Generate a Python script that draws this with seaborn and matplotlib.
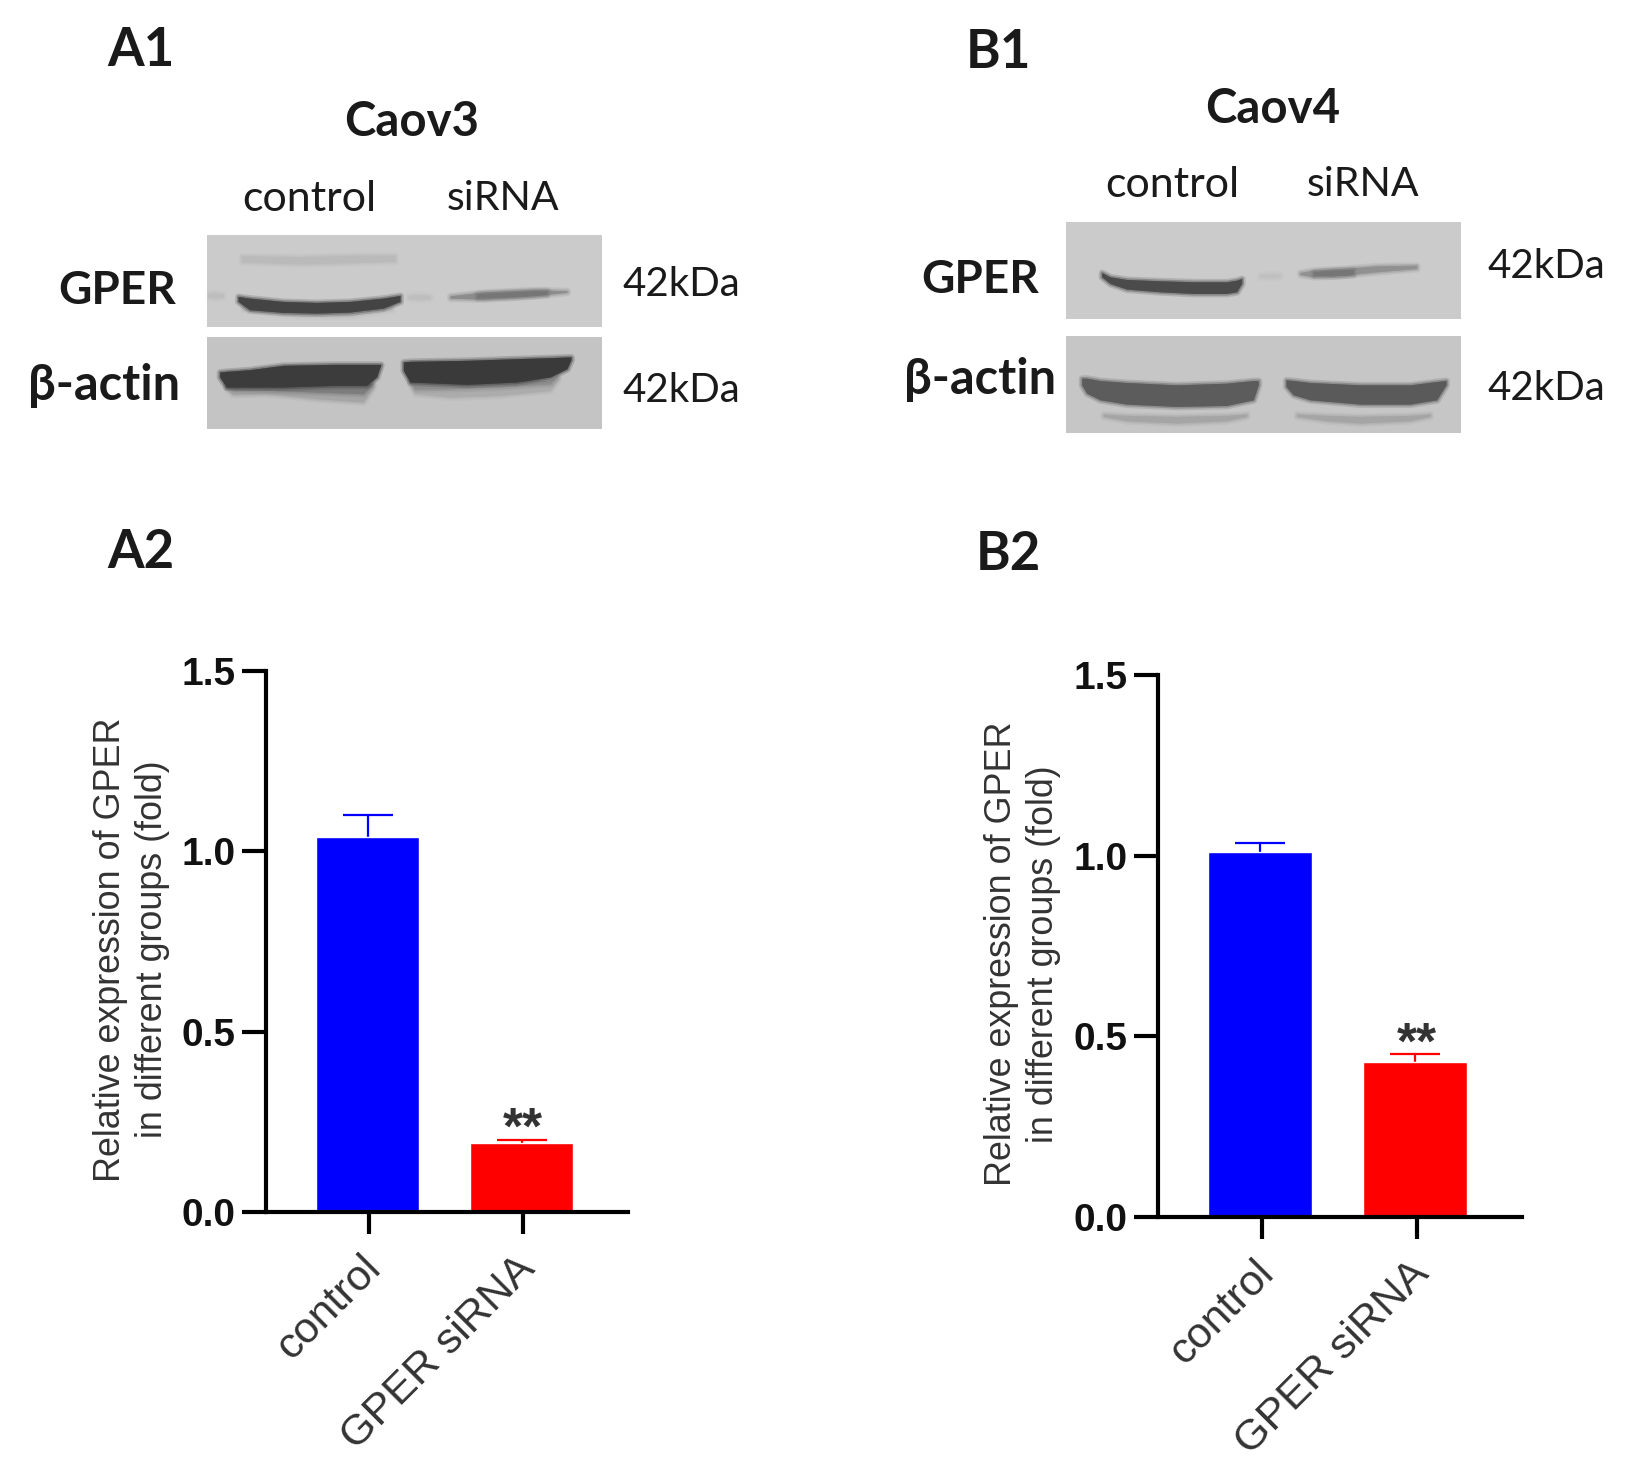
import pandas as pd
import matplotlib
matplotlib.use("Agg")
import matplotlib.pyplot as plt
import seaborn as sns
from matplotlib.transforms import ScaledTranslation

# bar data
groups = ["control", "GPER siRNA"]
a2_values = [1.04, 0.19]
a2_upper = [1.10, 0.20]
b2_values = [1.01, 0.43]
b2_upper = [1.035, 0.45]
bar_colors = ["#0000ff", "#ff0000"]
y_ticks = [0.0, 0.5, 1.0, 1.5]

# blots: each band is (x, top edge, bottom edge, grey level)
a1_gper = [
    ([125, 300, 470, 585], [78, 80, 76, 76], [96, 102, 98, 94], 186),
    ([130, 300, 450, 575], [225, 240, 240, 225], [240, 258, 258, 240], 185),
    ([115, 150, 250, 350, 450, 550, 600], [200, 205, 215, 218, 215, 205, 197],
     [215, 240, 248, 250, 247, 235, 215], 68),
    ([24, 45, 70], [192, 188, 192], [202, 206, 202], 190),
    ([625, 655, 690], [198, 194, 198], [206, 210, 206], 190),
    ([750, 850, 1000, 1100], [198, 187, 180, 183], [205, 208, 198, 187], 140),
    ([830, 950, 1040], [192, 186, 182], [204, 200, 194], 118),
]
a1_actin = [
    ([80, 100, 200, 350, 490, 520], [460, 460, 460, 460, 460, 460],
     [475, 493, 490, 505, 515, 470], 165),
    ([80, 100, 200, 350, 490, 515], [460, 460, 460, 460, 460, 460],
     [470, 478, 480, 485, 490, 465], 125),
    ([60, 80, 150, 250, 400, 500, 530, 542], [425, 423, 418, 405, 402, 402, 402, 402],
     [440, 470, 470, 470, 465, 465, 440, 405], 60),
    ([630, 645, 750, 900, 1050, 1075], [450, 450, 450, 450, 450, 445],
     [460, 490, 500, 495, 480, 445], 172),
    ([630, 645, 750, 900, 1050, 1070], [450, 450, 450, 450, 450, 440],
     [455, 476, 475, 470, 460, 440], 140),
    ([610, 630, 800, 950, 1050, 1100, 1112], [395, 393, 390, 385, 382, 380, 380],
     [420, 455, 462, 455, 440, 415, 388], 58),
]
b1_gper = [
    ([125, 150, 200, 300, 400, 500, 530, 545], [172, 185, 193, 197, 200, 200, 195, 190],
     [185, 205, 222, 230, 235, 235, 230, 205], 75),
    ([600, 630, 660], [178, 176, 178], [186, 188, 186], 192),
    ([720, 760, 850, 950, 1070], [172, 165, 160, 152, 150], [178, 185, 180, 170, 160], 145),
    ([760, 820, 880], [170, 165, 163], [180, 182, 178], 118),
]
b1_actin = [
    ([65, 80, 120, 200, 350, 500, 580, 595], [490, 490, 497, 503, 510, 505, 497, 497],
     [510, 535, 555, 568, 575, 572, 555, 510], 92),
    ([678, 700, 750, 900, 1050, 1130, 1158], [495, 497, 503, 510, 510, 500, 497],
     [515, 540, 555, 568, 568, 555, 510], 90),
    ([130, 200, 350, 500, 560], [598, 602, 605, 602, 598], [605, 618, 625, 618, 605], 165),
    ([710, 800, 900, 1050, 1110], [598, 602, 605, 602, 598], [605, 618, 625, 618, 605], 165),
]

sns.set_theme(style="white")
plt.rcParams["font.family"] = ["Liberation Sans", "DejaVu Sans"]

W, H = 1630, 1467
fig = plt.figure(figsize=(W / 100, H / 100), dpi=100, facecolor="white")


def px_axes(left, top, right, bottom):
    return fig.add_axes([left / W, 1 - bottom / H, (right - left) / W, (bottom - top) / H])


def px_text(x, y, s, size, weight="normal", color="#1a1a1a"):
    fig.text(x / W, 1 - y / H, s, fontsize=size, fontweight=weight, color=color,
             ha="center", va="center", family=["Lato", "DejaVu Sans"])


def draw_blot(bands, box, xlim, ylim, background):
    ax = px_axes(*box)
    ax.set_facecolor(str(background / 255))
    for x, top, bottom, grey in bands:
        col = str(grey / 255)
        # soft rim first, so the band edge is not razor sharp
        for lw, alpha in [(5, 0.2), (2.5, 0.4), (0, 1)]:
            ax.fill_between(x, top, bottom, color=col, lw=lw, alpha=alpha)
    ax.set_xlim(*xlim)
    ax.set_ylim(*ylim)
    ax.set_xticks([])
    ax.set_yticks([])
    for s in ax.spines.values():
        s.set_visible(False)


def draw_bars(values, upper, box, label_x):
    ax = px_axes(*box)
    df = pd.DataFrame({"group": groups, "value": values})
    sns.barplot(data=df, x="group", y="value", hue="group", palette=bar_colors, saturation=1,
                width=0.67, legend=False, errorbar=None, ax=ax, zorder=2)
    for i, (v, u) in enumerate(zip(values, upper)):
        _, caps, _ = ax.errorbar(i, v, yerr=[[0], [u - v]], color=bar_colors[i], capsize=18,
                                 elinewidth=1.6, capthick=1.6, zorder=1)
        caps[0].set_visible(False)
    ax.set_xlim(-0.66, 1.69)
    ax.set_ylim(0, 1.5)
    ax.set_yticks(y_ticks)
    ax.set_yticklabels([f"{t:.1f}" for t in y_ticks], fontsize=28, color="#111111",
                       fontweight="bold")
    ax.tick_params(axis="y", length=17, width=3, color="black", pad=5, left=True)
    ax.tick_params(axis="x", length=16, width=3, color="black", pad=8, bottom=True)
    ax.set_xticks([0.01, 1.01])
    ax.set_xticklabels(groups, rotation=45, ha="right", rotation_mode="anchor",
                       fontsize=31, color="#333333")
    shift = ScaledTranslation(-6 / 72, -2 / 72, fig.dpi_scale_trans)
    for lab in ax.get_xticklabels():
        lab.set_transform(lab.get_transform() + shift)
    for side in ["top", "right"]:
        ax.spines[side].set_visible(False)
    for side in ["left", "bottom"]:
        ax.spines[side].set_linewidth(3)
        ax.spines[side].set_color("black")
    ax.patch.set_alpha(0)
    ax.set_xlabel("")
    ax.set_ylabel("Relative expression of GPER\nin different groups (fold)", fontsize=25.8,
                  color="#333333", labelpad=0, linespacing=1.26)
    ax.yaxis.set_label_coords(label_x, 0.485)
    ax.annotate("**", (1.01, upper[1]), xytext=(0, 7), textcoords="offset points",
                ha="center", va="center", fontsize=37, fontweight="bold", color="#333333")
    return ax


# blot panels, x and y limits are the crop units used for the band edges
draw_blot(a1_gper, (207, 235, 602, 327), (22, 1205), (292, 15), 203)
draw_blot(a1_actin, (207, 337, 602, 429), (22, 1205), (596, 320), 196)
draw_blot(b1_gper, (1066, 222, 1461, 319), (18, 1203), (312, 20), 203)
draw_blot(b1_actin, (1066, 336, 1461, 433), (18, 1203), (655, 363), 198)

# bar panels
draw_bars(a2_values, a2_upper, (266, 671, 628, 1212), -0.266)
draw_bars(b2_values, b2_upper, (1158, 675, 1522, 1217), -0.266)

# panel letters
px_text(141, 50, "A1", 38, "bold")
px_text(141, 552, "A2", 38, "bold")
px_text(998, 53, "B1", 38, "bold")
px_text(1008, 555, "B2", 38, "bold")

# blot annotations
px_text(412, 122, "Caov3", 34, "bold")
px_text(1273, 109, "Caov4", 34, "bold")
px_text(309, 199, "control", 31)
px_text(503, 199, "siRNA", 29.5)
px_text(1172, 185, "control", 31)
px_text(1363, 185, "siRNA", 29.5)
px_text(117, 291, "GPER", 33, "bold")
px_text(104, 386, "β-actin", 35, "bold")
px_text(980, 280, "GPER", 33, "bold")
px_text(980, 380, "β-actin", 35, "bold")
px_text(681, 285, "42kDa", 29)
px_text(681, 391, "42kDa", 29)
px_text(1546, 266, "42kDa", 29)
px_text(1546, 389, "42kDa", 29)

fig.savefig("out.png", dpi=100)
